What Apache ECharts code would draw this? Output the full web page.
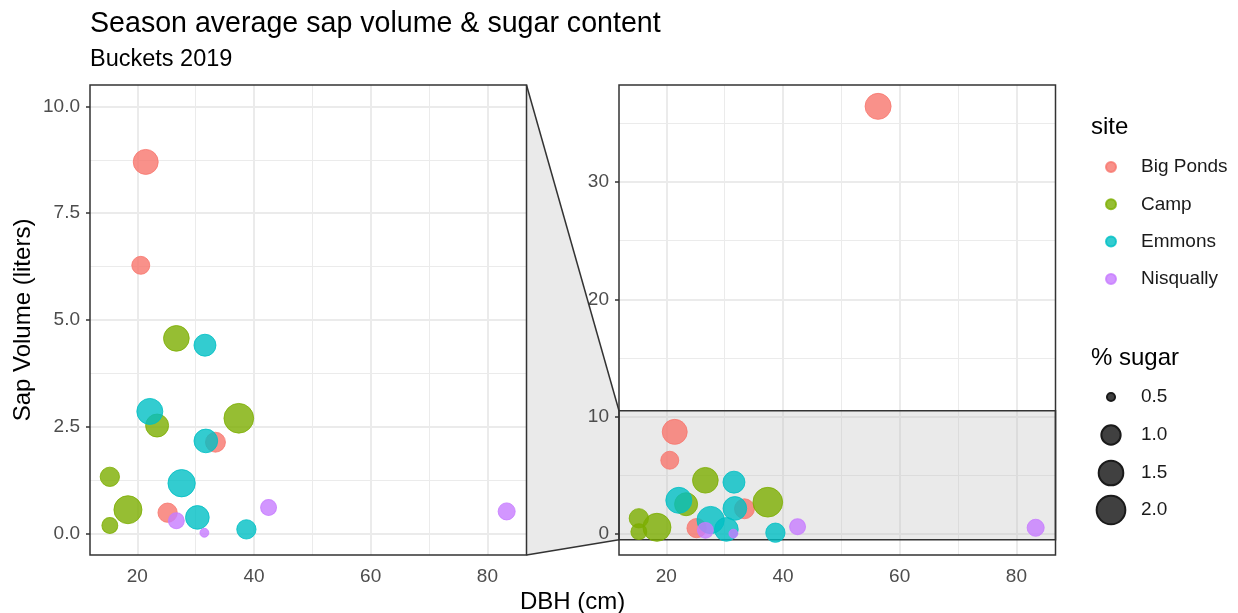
<!DOCTYPE html>
<html><head><meta charset="utf-8">
<script src="https://cdn.jsdelivr.net/npm/echarts@6/dist/echarts.min.js"></script>
<style>html,body{margin:0;padding:0;background:#fff}#chart{width:1238px;height:613px}</style>
</head><body><div id="chart"></div>
<script>
// ---------- data ----------
const sites = ['Big Ponds', 'Camp', 'Emmons', 'Nisqually'];
const siteColors = ['#F8766D', '#7CAE00', '#00BFC4', '#C77CFF'];

const bigPondsDBH   = [21.45, 20.6, 33.4, 25.2, 56.3];
const bigPondsVol   = [8.70, 6.28, 2.14, 0.49, 36.46];
const bigPondsSugar = [1.54, 0.90, 1.05, 1.00, 1.66];

const campDBH   = [26.7, 23.4, 37.4, 15.3, 18.4, 15.3];
const campVol   = [4.57, 2.53, 2.70, 1.33, 0.56, 0.19];
const campSugar = [1.62, 1.33, 2.14, 1.00, 1.91, 0.77];

const emmonsDBH   = [31.6, 22.15, 31.75, 27.6, 30.3, 38.7];
const emmonsVol   = [4.41, 2.86, 2.17, 1.18, 0.38, 0.10];
const emmonsSugar = [1.23, 1.66, 1.40, 1.82, 1.40, 1.00];

const nisquallyDBH   = [26.7, 31.5, 42.5, 83.3];
const nisquallyVol   = [0.30, 0.02, 0.61, 0.52];
const nisquallySugar = [0.77, 0.51, 0.77, 0.84];

const xTicks = [20, 40, 60, 80];
const xMinor = [30, 50, 70];
const zoomLimits = [0, 10];
const yZoomTicks = [0, 2.5, 5, 7.5, 10];
const yZoomMinor = [1.25, 3.75, 6.25, 8.75];
const yFullTicks = [0, 10, 20, 30];
const yFullMinor = [5, 15, 25, 35];
const sugarBreaks = ['0.5', '1.0', '1.5', '2.0'];

// ---------- build ----------
const siteData = [
  [bigPondsDBH, bigPondsVol, bigPondsSugar],
  [campDBH, campVol, campSugar],
  [emmonsDBH, emmonsVol, emmonsSugar],
  [nisquallyDBH, nisquallyVol, nisquallySugar]
].map(([x, y, s]) => x.map((v, i) => [v, y[i], s[i]]));

const allX = siteData.flat().map(d => d[0]);
const allY = siteData.flat().map(d => d[1]);
function expand(lo, hi) { const s = (hi - lo) * 0.05; return [lo - s, hi + s]; }
const xRange = expand(Math.min(...allX), Math.max(...allX));
const yFull = expand(Math.min(...allY), Math.max(...allY));
const yZoom = expand(zoomLimits[0], zoomLimits[1]);

function sizeScale(v) { return 6.26 + 18.26 * Math.sqrt(Math.max(v - 0.49, 0)); }

const FONT = 'Liberation Sans, Arial, Helvetica, sans-serif';
const GRID = '#ebebeb';
const DARK = '#333333';

function gridLines(majors, minors) {
  const d = [];
  xTicks.forEach(v => d.push({ xAxis: v, lineStyle: { color: GRID, width: 2, type: 'solid' } }));
  xMinor.forEach(v => d.push({ xAxis: v, lineStyle: { color: GRID, width: 1, type: 'solid' } }));
  majors.forEach(v => d.push({ yAxis: v, lineStyle: { color: GRID, width: 2, type: 'solid' } }));
  minors.forEach(v => d.push({ yAxis: v, lineStyle: { color: GRID, width: 1, type: 'solid' } }));
  return d;
}

const series = [];
series.push({
  type: 'scatter', name: '_grid0', xAxisIndex: 0, yAxisIndex: 0, data: [], silent: true, z: 1,
  markLine: { silent: true, z: 1, symbol: 'none', label: { show: false }, emphasis: { disabled: true },
    animation: false, data: gridLines(yZoomTicks, yZoomMinor) }
});
series.push({
  type: 'scatter', name: '_grid1', xAxisIndex: 1, yAxisIndex: 1, data: [], silent: true, z: 1,
  markLine: { silent: true, z: 1, symbol: 'none', label: { show: false }, emphasis: { disabled: true },
    animation: false, data: gridLines(yFullTicks, yFullMinor) },
  markArea: { silent: true, z: 1.5, emphasis: { disabled: true }, animation: false,
    itemStyle: { color: 'rgba(185,185,185,0.3)', borderColor: DARK, borderWidth: 1.5 },
    data: [[{ yAxis: yZoom[0] }, { yAxis: yZoom[1] }]] }
});

sites.forEach((name, i) => {
  [0, 1].forEach(g => {
    series.push({
      type: 'scatter', name, xAxisIndex: g, yAxisIndex: g, z: 10, clip: true,
      data: siteData[i],
      symbolSize: v => sizeScale(v[2]),
      itemStyle: { color: siteColors[i], opacity: 0.8, borderColor: siteColors[i], borderWidth: 1 },
      emphasis: { disabled: true }
    });
  });
});
sugarBreaks.forEach(b => {
  series.push({ type: 'scatter', name: b, xAxisIndex: 0, yAxisIndex: 0, data: [],
    itemStyle: { color: '#404040', opacity: 1, borderColor: '#1a1a1a', borderWidth: 1 } });
});

function xAxis(g) {
  return {
    type: 'value', gridIndex: g, min: xRange[0], max: xRange[1],
    axisLine: { show: false }, splitLine: { show: false },
    axisTick: { show: true, customValues: xTicks, length: 4, lineStyle: { color: DARK, width: 1.5 } },
    axisLabel: { customValues: xTicks, margin: 12, color: '#4d4d4d', fontSize: 19, fontFamily: FONT }
  };
}
function yAxis(g, rng, ticks, fmt) {
  return {
    type: 'value', gridIndex: g, min: rng[0], max: rng[1],
    axisLine: { show: false }, splitLine: { show: false },
    axisTick: { show: true, customValues: ticks, length: 4, lineStyle: { color: DARK, width: 1.5 } },
    axisLabel: { customValues: ticks, margin: 10, color: '#4d4d4d', fontSize: 19, fontFamily: FONT, formatter: fmt }
  };
}

const sizeCenters = [392, 429, 467, 504];
const legends = [{
  data: sites, orient: 'vertical', left: 1100, top: 152.5, itemWidth: 50, itemHeight: 10, itemGap: 18.3,
  icon: 'circle', selectedMode: false,
  textStyle: { fontSize: 19, color: '#1a1a1a', fontFamily: FONT }
}];
sugarBreaks.forEach((b, i) => {
  const d = sizeScale(parseFloat(b));
  legends.push({
    data: [b], orient: 'vertical', left: 1105 - d / 2, top: sizeCenters[i] - Math.max(d, 19) / 2,
    itemWidth: 50, itemHeight: d, icon: 'circle', selectedMode: false,
    textStyle: { fontSize: 19, color: '#1a1a1a', fontFamily: FONT }
  });
});

const option = {
  animation: false,
  backgroundColor: '#ffffff',
  title: [
    { text: 'Season average sap volume & sugar content', left: 85, top: 5,
      textStyle: { fontSize: 28.6, fontWeight: 'normal', color: '#000', fontFamily: FONT } },
    { text: 'Buckets 2019', left: 85, top: 43,
      textStyle: { fontSize: 23.5, fontWeight: 'normal', color: '#000', fontFamily: FONT } },
    { text: 'DBH (cm)', left: 515, top: 585,
      textStyle: { fontSize: 24, fontWeight: 'normal', color: '#000', fontFamily: FONT } },
    { text: 'site', left: 1086, top: 110,
      textStyle: { fontSize: 24, fontWeight: 'normal', color: '#000', fontFamily: FONT } },
    { text: '% sugar', left: 1086, top: 341,
      textStyle: { fontSize: 24, fontWeight: 'normal', color: '#000', fontFamily: FONT } }
  ],
  legend: legends,
  grid: [
    { left: 90, top: 85, width: 436.5, height: 470, containLabel: false },
    { left: 619, top: 85, width: 436.5, height: 470, containLabel: false }
  ],
  xAxis: [xAxis(0), xAxis(1)],
  yAxis: [
    Object.assign(yAxis(0, yZoom, yZoomTicks, v => v.toFixed(1)), {
      name: 'Sap Volume (liters)', nameLocation: 'middle', nameGap: 55, nameRotate: 90,
      nameTextStyle: { fontSize: 24, color: '#000', fontFamily: FONT }
    }),
    yAxis(1, yFull, yFullTicks, v => String(v))
  ],
  series
};

const chart = echarts.init(document.getElementById('chart'), null, { renderer: 'canvas' });
chart.setOption(option);

// panel borders and zoom connector, positioned through the axes' scales
const lBL = chart.convertToPixel({ gridIndex: 0 }, [xRange[0], yZoom[0]]);
const lTR = chart.convertToPixel({ gridIndex: 0 }, [xRange[1], yZoom[1]]);
const rBL = chart.convertToPixel({ gridIndex: 1 }, [xRange[0], yFull[0]]);
const rTR = chart.convertToPixel({ gridIndex: 1 }, [xRange[1], yFull[1]]);
const rZT = chart.convertToPixel({ gridIndex: 1 }, [xRange[0], yZoom[1]]);
const rZB = chart.convertToPixel({ gridIndex: 1 }, [xRange[0], yZoom[0]]);
chart.setOption({
  graphic: [
    { type: 'polygon', z: 0, silent: true,
      shape: { points: [[lTR[0], lTR[1]], [rZT[0], rZT[1]], [rZB[0], rZB[1]], [lTR[0], lBL[1]]] },
      style: { fill: 'rgba(185,185,185,0.3)', stroke: null } },
    { type: 'polyline', z: 100, silent: true, shape: { points: [[lTR[0], lTR[1]], [rZT[0], rZT[1]]] },
      style: { stroke: DARK, lineWidth: 1.5, fill: null } },
    { type: 'polyline', z: 100, silent: true, shape: { points: [[lTR[0], lBL[1]], [rZB[0], rZB[1]]] },
      style: { stroke: DARK, lineWidth: 1.5, fill: null } },
    { type: 'rect', z: 100, silent: true,
      shape: { x: lBL[0], y: lTR[1], width: lTR[0] - lBL[0], height: lBL[1] - lTR[1] },
      style: { fill: null, stroke: DARK, lineWidth: 1.5 } },
    { type: 'rect', z: 100, silent: true,
      shape: { x: rBL[0], y: rTR[1], width: rTR[0] - rBL[0], height: rBL[1] - rTR[1] },
      style: { fill: null, stroke: DARK, lineWidth: 1.5 } }
  ]
});
</script></body></html>
